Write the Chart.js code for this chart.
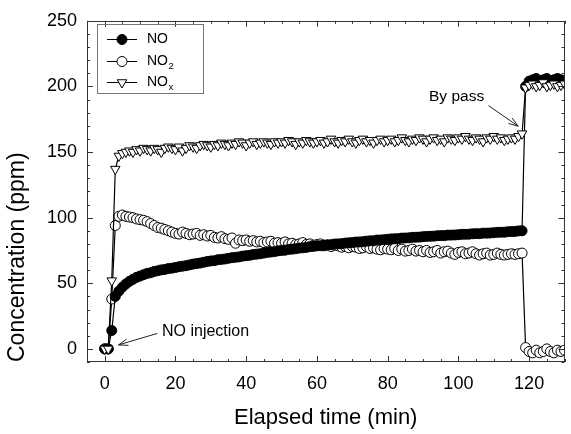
<!DOCTYPE html>
<html><head><meta charset="utf-8">
<script src="https://cdn.jsdelivr.net/npm/chart.js@4.4.0/dist/chart.umd.min.js"></script>
<style>html,body{margin:0;padding:0;background:#fff;overflow:hidden}canvas{display:block}</style>
</head><body>
<canvas id="c" width="571" height="434"></canvas>
<script>
// ---------- data ----------
const timeMin = [0,1,2,3,4,5,6,7,8,9,10,11,12,13,14,15,16,17,18,19,20,21,22,23,24,25,26,27,28,29,30,31,32,33,34,35,36,37,38,39,40,41,42,43,44,45,46,47,48,49,50,51,52,53,54,55,56,57,58,59,60,61,62,63,64,65,66,67,68,69,70,71,72,73,74,75,76,77,78,79,80,81,82,83,84,85,86,87,88,89,90,91,92,93,94,95,96,97,98,99,100,101,102,103,104,105,106,107,108,109,110,111,112,113,114,115,116,117,118,119,120,121,122,123,124,125,126,127,128,129,130];

const noPpm = [0,0,14,40,44,47,49.5,51.5,53,54.5,55.5,56.5,57.5,58,59,59.5,60.2,60.5,61.2,61.5,62,62.6,63,63.4,64,64.6,65,65.4,66,66.6,67,67.2,67.9,68.2,68.5,69,69.5,69.8,70.1,70.7,71,71.3,71.9,72.2,72.5,73,73.5,73.8,74.1,74.7,75,75.2,75.8,76,76.3,76.8,77,77.3,77.9,78.1,78.5,78.6,79.1,79.3,79.4,79.9,80,80.2,80.6,80.8,81,81.4,81.5,81.7,82.1,82.3,82.4,82.9,83,83.2,83.5,83.8,83.9,84,84.4,84.5,84.6,85,85.1,85.2,85.5,85.7,85.8,85.9,86.2,86.3,86.3,86.7,86.7,86.8,87,87.3,87.3,87.4,87.7,87.8,87.8,88.2,88.2,88.3,88.5,88.8,88.9,88.9,89.3,89.4,89.5,89.9,90,
  200,204,205,206,204,205,206,204,205,206,205,204];

const no2Ppm = [0,0,38,94,101,102,101,100.5,100,99,98.5,98,97,95.5,94,92.5,92,91,90,89,88,87.5,89,88,87,87.5,88,86.5,87,86,86.5,85,84.5,85.5,84,83.5,84.5,80.5,83,82.5,83,82,82.5,81.5,82,81,81.5,82,80.5,81,80.5,81.5,80,80.5,79.5,80,81,79.5,80,79,79.5,80,78.5,79,78,79,78.5,77.5,78,77,78,77.5,76.5,77,78,76.5,77,76,75.5,76.5,76,75.5,76.5,75,76,74.5,75,76,74.5,75,74,75,73.5,74,75,73,74,74.5,73,72,73.5,74,72.5,73,74,72.5,71.5,72.5,73,71.5,72,73,72,71.5,72,72.5,72,72.5,73,
  1,-2,-3,-1,-3,-2,0,-2,-3,-1,-2,-1];

const noxPpm = [0,0,52,137,147,149,150,151,150,152,151,153,152,151,153,152,150,153,154,153,152,154,151,153,155,154,153,155,156,155,154,156,155,157,156,155,157,156,158,157,155,157,158,156,157,158,157,156,158,157,158,157,159,158,156,158,157,159,158,157,158,159,157,158,160,158,157,159,158,160,158,157,159,160,158,159,157,159,160,158,159,160,158,159,161,159,158,160,159,161,160,158,160,161,159,160,158,161,160,159,161,160,162,160,159,161,160,158,161,160,162,160,161,159,160,161,160,162,164,
  199,201,202,200,201,203,200,201,202,200,201,202];

const seriesLabels = ['NO', 'NO2', 'NOx'];
const xTickValues = [0,20,40,60,80,100,120];
const yTickValues = [0,50,100,150,200,250];
const xTitle = 'Elapsed time (min)';
const yTitle = 'Concentration (ppm)';
const noteInjection = 'NO injection';
const noteBypass = 'By pass';

// ---------- drawing ----------
const FONT = "'Liberation Sans', Arial, Helvetica, sans-serif";
Chart.defaults.font.family = FONT;
Chart.defaults.color = '#000';

function pts(vals){ return timeMin.map((t,i)=>({x:t, y:vals[i]})); }

function arrow(ctx, x1, y1, x2, y2){
  const a = Math.atan2(y2-y1, x2-x1), L = 10, h = 0.33;
  ctx.beginPath();
  ctx.moveTo(x1,y1); ctx.lineTo(x2,y2);
  ctx.moveTo(x2 - L*Math.cos(a-h), y2 - L*Math.sin(a-h));
  ctx.lineTo(x2,y2);
  ctx.lineTo(x2 - L*Math.cos(a+h), y2 - L*Math.sin(a+h));
  ctx.stroke();
}

const framePlugin = {
  id:'frame',
  afterDatasetsDraw(chart){
    const {ctx, chartArea:a, scales:{x,y}} = chart;
    ctx.save();
    ctx.strokeStyle = '#333'; ctx.lineWidth = 1;
    ctx.strokeRect(Math.round(a.left)+0.5, Math.round(a.top)+0.5, Math.round(a.right-a.left)-1, Math.round(a.bottom-a.top)-1);
    ctx.beginPath();
    for (let v = -5; v <= 130; v += 5){
      const px = Math.round(x.getPixelForValue(v))+0.5;
      const len = (v % 20 === 0) ? 6 : 3;
      ctx.moveTo(px, a.bottom); ctx.lineTo(px, a.bottom-len);
      ctx.moveTo(px, a.top); ctx.lineTo(px, a.top+len);
    }
    for (let v = -10; v <= 250; v += 10){
      const py = Math.round(y.getPixelForValue(v))+0.5;
      const len = (v % 50 === 0) ? 6 : 3;
      ctx.moveTo(a.left, py); ctx.lineTo(a.left+len, py);
      ctx.moveTo(a.right, py); ctx.lineTo(a.right-len, py);
    }
    ctx.stroke();
    ctx.restore();
  }
};

const notesPlugin = {
  id:'notes',
  afterDraw(chart){
    const {ctx, scales:{x,y}} = chart;
    ctx.save();
    ctx.fillStyle = '#000'; ctx.strokeStyle = '#222'; ctx.lineWidth = 1;
    ctx.font = '16px ' + FONT; ctx.textBaseline = 'middle'; ctx.textAlign = 'left';
    ctx.fillText(noteInjection, x.getPixelForValue(16.2), y.getPixelForValue(13.5));
    arrow(ctx, x.getPixelForValue(14.9), y.getPixelForValue(11.8), x.getPixelForValue(3.9), y.getPixelForValue(3));
    ctx.font = '15.5px ' + FONT;
    ctx.fillText(noteBypass, x.getPixelForValue(91.7), y.getPixelForValue(192.2));
    arrow(ctx, x.getPixelForValue(108.5), y.getPixelForValue(185.4), x.getPixelForValue(116.9), y.getPixelForValue(169.7));
    ctx.restore();
  }
};

const legendPlugin = {
  id:'legendBox',
  afterDraw(chart){
    const ctx = chart.ctx;
    ctx.save();
    ctx.strokeStyle = '#777'; ctx.lineWidth = 1;
    ctx.strokeRect(97.5, 24.5, 106, 69);
    const rows = [39, 61, 82];
    const styles = [
      {pointStyle:'circle', radius:5, fill:'#000', rotation:0},
      {pointStyle:'circle', radius:5, fill:'#fff', rotation:0},
      {pointStyle:'triangle', radius:5.5, fill:'#fff', rotation:180}
    ];
    rows.forEach((yy, i) => {
      ctx.strokeStyle = '#000'; ctx.lineWidth = 1;
      ctx.beginPath(); ctx.moveTo(107, yy+0.5); ctx.lineTo(137, yy+0.5); ctx.stroke();
      ctx.fillStyle = styles[i].fill; ctx.strokeStyle = '#000';
      Chart.helpers.drawPoint(ctx, {pointStyle:styles[i].pointStyle, radius:styles[i].radius, rotation:styles[i].rotation, borderWidth:1}, 122, yy+0.5);
      ctx.fillStyle = '#000';
      ctx.textBaseline = 'middle'; ctx.textAlign = 'left';
      ctx.font = '14px ' + FONT;
      const lab = seriesLabels[i];
      const main = lab.slice(0,2), sub = lab.slice(2);
      ctx.fillText(main, 147, yy);
      if (sub){
        const w = ctx.measureText(main).width;
        ctx.font = '9.5px ' + FONT;
        ctx.fillText(sub, 147 + w + 0.5, yy + 5);
      }
    });
    ctx.restore();
  }
};

new Chart(document.getElementById('c').getContext('2d'), {
  type:'line',
  data:{ datasets:[
    {label:seriesLabels[0], data:pts(noPpm), borderColor:'#000', borderWidth:1.2, tension:0,
     pointStyle:'circle', pointRadius:5, pointBackgroundColor:'#000', pointBorderColor:'#000', pointBorderWidth:1, order:2},
    {label:seriesLabels[1], data:pts(no2Ppm), borderColor:'#000', borderWidth:1.2, tension:0,
     pointStyle:'circle', pointRadius:5, pointBackgroundColor:'#fff', pointBorderColor:'#000', pointBorderWidth:1, order:3},
    {label:seriesLabels[2], data:pts(noxPpm), borderColor:'#000', borderWidth:1.2, tension:0,
     pointStyle:'triangle', pointRotation:180, pointRadius:5.5, pointBackgroundColor:'#fff', pointBorderColor:'#000', pointBorderWidth:1, order:1}
  ]},
  options:{
    responsive:false, animation:false, devicePixelRatio:1,
    layout:{padding:{top:16, right:2, left:0, bottom:0}},
    plugins:{legend:{display:false}, tooltip:{enabled:false}},
    scales:{
      x:{type:'linear', min:-5, max:130,
        grid:{display:false, drawTicks:false}, border:{display:false},
        afterBuildTicks:s=>{ s.ticks = xTickValues.map(v=>({value:v})); },
        afterFit:s=>{ s.height = 72; },
        ticks:{font:{size:18}, padding:11, maxRotation:0, autoSkip:false, color:'#000'},
        title:{display:true, text:xTitle, font:{size:22}, color:'#000', padding:{top:0, bottom:3}}},
      y:{type:'linear', min:-10, max:250,
        grid:{display:false, drawTicks:false}, border:{display:false},
        afterBuildTicks:s=>{ s.ticks = yTickValues.map(v=>({value:v})); },
        afterFit:s=>{ s.width = 87; },
        ticks:{font:{size:18}, padding:10, autoSkip:false, color:'#000'},
        title:{display:true, text:yTitle, align:'start', font:{size:23}, color:'#000', padding:{top:4, bottom:0}}}
    }
  },
  plugins:[framePlugin, notesPlugin, legendPlugin]
});
</script>
</body></html>
